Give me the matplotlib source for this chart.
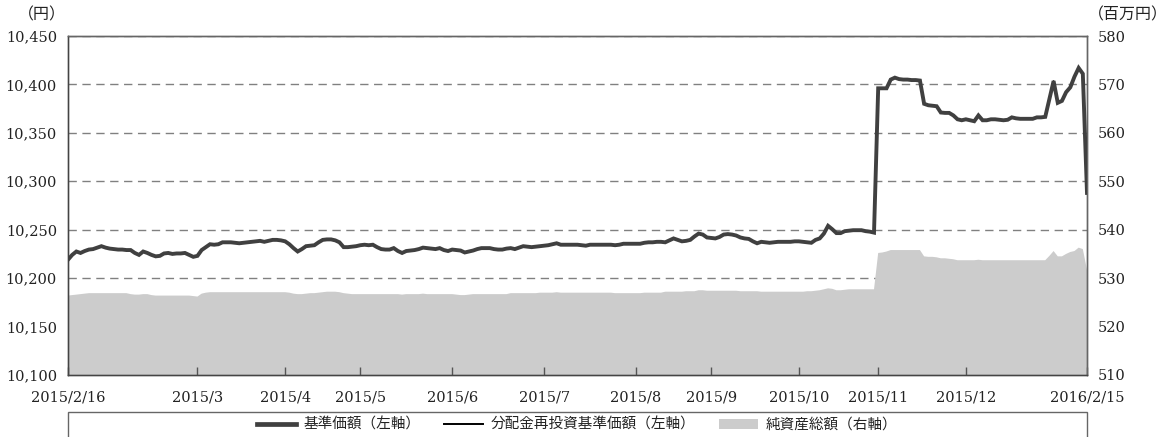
import matplotlib
matplotlib.use('Agg')
import matplotlib.pyplot as plt
from matplotlib.lines import Line2D
from matplotlib.patches import Patch, Rectangle
import numpy as np

# 基準価額 (円), one value per business day, 2015/2/16 - 2016/2/15
nav = [
    10219, 10224, 10227.5, 10226, 10228, 10229.5, 10230, 10231.5, 10233, 10231.5,
    10230.5, 10230, 10229.5, 10229.5, 10229, 10229, 10226, 10224, 10227.5, 10226,
    10224, 10222.5, 10223, 10225.5, 10226, 10225, 10225.5, 10225.5, 10226, 10224,
    10222, 10223, 10229, 10232, 10235, 10234.5, 10235, 10237, 10237, 10237,
    10236.5, 10236, 10236.5, 10237, 10237.5, 10238, 10238.5, 10237.5, 10238.5, 10239.5,
    10239.5, 10239, 10238, 10235, 10231, 10227.5, 10230, 10233, 10233.5, 10234,
    10237, 10239.5, 10240, 10240, 10239, 10237, 10232, 10232, 10232.5, 10233,
    10234, 10234.5, 10234, 10234.5, 10232, 10230, 10229.5, 10229.5, 10231, 10228,
    10226, 10228, 10228.5, 10229, 10230, 10231.5, 10231, 10230.5, 10230, 10231,
    10229, 10228, 10229.5, 10229, 10228.5, 10226.5, 10227.5, 10228.5, 10230, 10231,
    10231, 10231, 10230, 10229.5, 10229.5, 10230.5, 10231, 10230, 10231.5, 10233,
    10232.5, 10232, 10232.5, 10233, 10233.5, 10234, 10235, 10236, 10234.5, 10234.5,
    10234.5, 10234.5, 10234.5, 10234, 10233.5, 10234.5, 10234.5, 10234.5, 10234.5, 10234.5,
    10234.5, 10234, 10234.5, 10235.5, 10235.5, 10235.5, 10235.5, 10235.5, 10236.5, 10237,
    10237, 10237.5, 10237.5, 10237, 10239, 10241, 10239.5, 10238, 10238.5, 10239.5,
    10243, 10246, 10245, 10242, 10241.5, 10241, 10242.5, 10245, 10245.5, 10245,
    10244, 10242, 10241, 10240.5, 10238, 10236, 10237.5, 10237, 10236.5, 10237,
    10237.5, 10237.5, 10237.5, 10237.5, 10238, 10238, 10237.5, 10237, 10236.5, 10239.5,
    10241, 10246, 10254, 10250.5, 10246.5, 10246.5, 10248.5, 10249, 10249.5, 10249.5,
    10249.5, 10248.5, 10248, 10247, 10396, 10396, 10396, 10405, 10407, 10405.5,
    10405, 10405, 10404.5, 10404.5, 10404, 10380, 10378.5, 10378, 10377.5, 10371,
    10370.6, 10370.6, 10368, 10364, 10363, 10364, 10363, 10362, 10368, 10363,
    10363, 10364, 10364, 10363.5, 10363, 10363.5, 10366, 10365, 10364.5, 10364.5,
    10364.5, 10364.5, 10366, 10366, 10366.5, 10385, 10403.5, 10381, 10383, 10392,
    10397, 10408, 10417, 10411, 10288,
]

# 分配金再投資基準価額 (円) - no distributions, same as nav
nav_reinvested = list(nav)

# 純資産総額 (百万円)
net_assets = [
    526.4, 526.5, 526.6, 526.7, 526.8, 526.9, 526.9, 526.9, 526.9, 526.9,
    526.9, 526.9, 526.9, 526.9, 526.9, 526.7, 526.6, 526.6, 526.7, 526.7,
    526.5, 526.4, 526.4, 526.4, 526.4, 526.4, 526.4, 526.4, 526.4, 526.4,
    526.3, 526.2, 526.8, 527.0, 527.1, 527.1, 527.1, 527.1, 527.1, 527.1,
    527.1, 527.1, 527.1, 527.1, 527.1, 527.1, 527.1, 527.1, 527.1, 527.1,
    527.1, 527.1, 527.1, 527.0, 526.8, 526.7, 526.7, 526.8, 526.9, 526.9,
    527.0, 527.1, 527.2, 527.2, 527.2, 527.1, 526.9, 526.8, 526.7, 526.7,
    526.7, 526.7, 526.7, 526.7, 526.7, 526.7, 526.7, 526.7, 526.7, 526.7,
    526.6, 526.7, 526.7, 526.7, 526.7, 526.8, 526.7, 526.7, 526.7, 526.7,
    526.7, 526.7, 526.7, 526.6, 526.5, 526.5, 526.6, 526.7, 526.7, 526.7,
    526.7, 526.7, 526.7, 526.7, 526.7, 526.7, 526.9, 526.9, 526.9, 526.9,
    526.9, 526.9, 526.9, 527.0, 527.0, 527.0, 527.0, 527.1, 527.0, 527.0,
    527.0, 527.0, 527.0, 527.0, 527.0, 527.0, 527.0, 527.0, 527.0, 527.0,
    527.0, 526.9, 526.9, 526.9, 526.9, 526.9, 526.9, 526.9, 527.0, 527.0,
    527.0, 527.0, 527.0, 527.2, 527.2, 527.2, 527.2, 527.2, 527.3, 527.3,
    527.3, 527.5, 527.5, 527.4, 527.4, 527.4, 527.4, 527.4, 527.4, 527.4,
    527.4, 527.3, 527.3, 527.3, 527.3, 527.3, 527.2, 527.2, 527.2, 527.2,
    527.2, 527.2, 527.2, 527.2, 527.2, 527.2, 527.2, 527.3, 527.3, 527.4,
    527.5, 527.7, 527.9, 527.8, 527.5, 527.5, 527.6, 527.7, 527.7, 527.7,
    527.7, 527.7, 527.7, 527.7, 535.2, 535.3, 535.5, 535.8, 535.8, 535.8,
    535.8, 535.8, 535.8, 535.8, 535.8, 534.5, 534.4, 534.4, 534.3, 534.1,
    534.1, 534.0, 533.9, 533.7, 533.7, 533.7, 533.7, 533.7, 533.8, 533.7,
    533.7, 533.7, 533.7, 533.7, 533.7, 533.7, 533.7, 533.7, 533.7, 533.7,
    533.7, 533.7, 533.7, 533.7, 533.7, 534.6, 535.6, 534.5, 534.5, 535.0,
    535.4, 535.6, 536.3, 536.0, 531.7,
]

# x tick positions (business-day index) and labels
tick_pos = [0, 31, 52, 70, 92, 114, 136, 154, 175, 194, 215, 244]
tick_labels = ['2015/2/16', '2015/3', '2015/4', '2015/5', '2015/6', '2015/7',
               '2015/8', '2015/9', '2015/10', '2015/11', '2015/12', '2016/2/15']

left_ticks = np.arange(10100, 10451, 50)
right_ticks = np.arange(510, 581, 10)

jp_font = ['Noto Sans CJK JP', 'DejaVu Sans']
num_font = 'DejaVu Serif'
line_color = '#404040'
area_color = '#cccccc'
grid_color = '#808080'

x = np.arange(len(nav))

fig = plt.figure(figsize=(11.7, 4.37), dpi=100)
ax = fig.add_axes([68 / 1170, 62 / 437, 1019 / 1170, 339 / 437])
ax2 = ax.twinx()

# area (right axis) below, lines (left axis) on top
ax2.fill_between(x, 0, net_assets, color=area_color, lw=0, zorder=2)
ax2.set_ylim(510, 580)
ax2.set_yticks(right_ticks)
ax2.set_yticklabels([str(v) for v in right_ticks], fontfamily=num_font, fontsize=10.5)
ax2.grid(axis='y', color=grid_color, linestyle=(0, (6, 4)), linewidth=1)
ax2.set_axisbelow(True)
ax2.tick_params(axis='y', length=0, pad=8, colors='#222222')

ax.set_zorder(ax2.get_zorder() + 1)
ax.patch.set_visible(False)
ax.plot(x, nav_reinvested, color='black', lw=1.2, zorder=3)
ax.plot(x, nav, color=line_color, lw=2.8, zorder=4, solid_joinstyle='miter')
ax.set_ylim(10100, 10450)
ax.set_yticks(left_ticks)
ax.set_yticklabels([f'{v:,}' for v in left_ticks], fontfamily=num_font, fontsize=10.5)
ax.tick_params(axis='y', length=0, pad=8, colors='#222222')

ax.set_xlim(0, len(nav) - 1)
ax.set_xticks(tick_pos)
ax.set_xticklabels(tick_labels, fontfamily=num_font, fontsize=10.5)
ax.tick_params(axis='x', direction='in', length=6, width=1, color='#555555',
               pad=11, labelcolor='#222222')

for a in (ax, ax2):
    for s in a.spines.values():
        s.set_color('#666666')
        s.set_linewidth(1)
ax.spines['left'].set_color('#444444')
ax.spines['bottom'].set_color('#444444')

fig.text(66 / 1170, 1 - 15 / 437, '（円）', ha='right', va='center',
         fontsize=11.5, family=jp_font, color='#222222')
fig.text(1088 / 1170, 1 - 15 / 437, '（百万円）', ha='left', va='center',
         fontsize=11.5, family=jp_font, color='#222222')

# legend box
fig.patches.append(Rectangle((68 / 1170, -0.05), 1019 / 1170, 0.05 + (437 - 412) / 437,
                             transform=fig.transFigure, fill=False,
                             edgecolor='#666666', lw=1))
handles = [Line2D([], [], color=line_color, lw=3.4),
           Line2D([], [], color='black', lw=1.4),
           Patch(facecolor=area_color, edgecolor='none')]
labels = ['基準価額（左軸）', '分配金再投資基準価額（左軸）', '純資産総額（右軸）']
fig.legend(handles, labels, loc='center', bbox_to_anchor=(577 / 1170, (437 - 425) / 437),
           ncol=3, frameon=False, prop={'family': jp_font, 'size': 10.5},
           handlelength=2.7, handleheight=0.6, handletextpad=0.5, columnspacing=1.6,
           borderpad=0, labelcolor='#222222')

fig.savefig('out.png', dpi=100)
